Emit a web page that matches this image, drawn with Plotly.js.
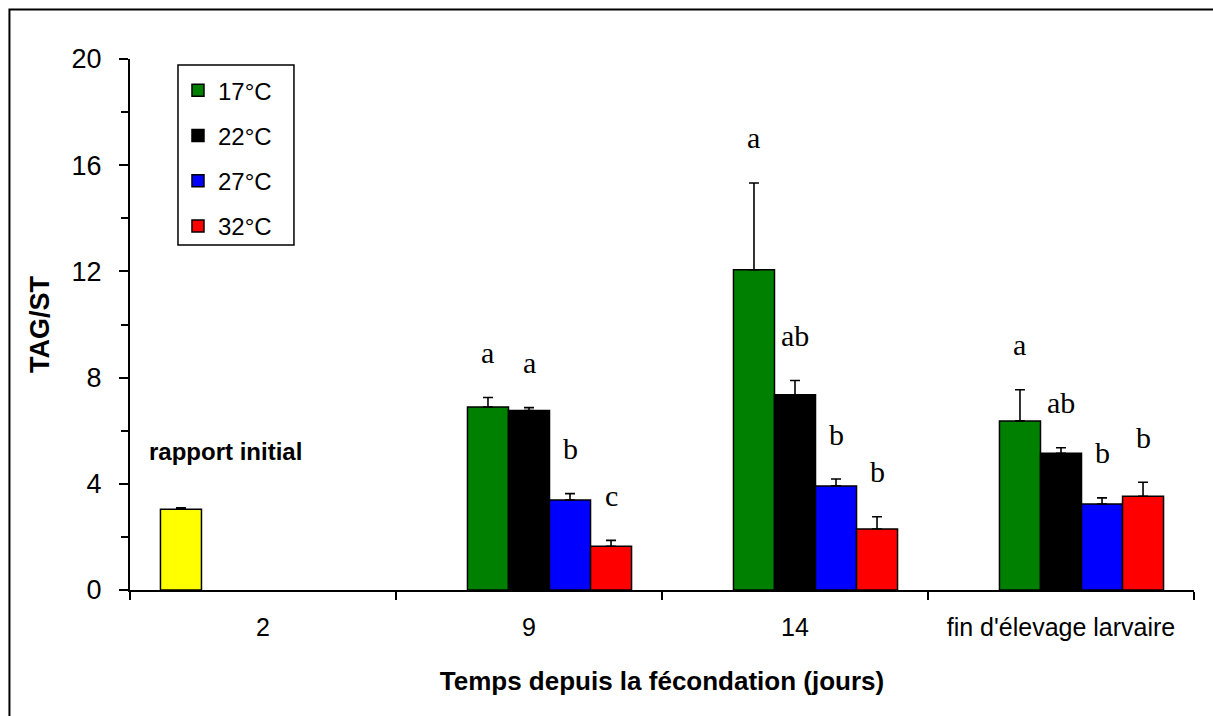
<!DOCTYPE html>
<html>
<head>
<meta charset="utf-8">
<script src="https://cdn.plot.ly/plotly-3.0.1.min.js"></script>
<style>
  html, body { margin: 0; padding: 0; background: #fff; }
  #chart { width: 1213px; height: 716px; }
</style>
</head>
<body>
<div id="chart"></div>
<script>
// Sampling times (days after fertilisation)
const categories = ['2', '9', '14', "fin d'élevage larvaire"];

// Initial TAG/ST ratio (only measured at day 2)
const initialRatio = [3.04, null, null, null];
const initialErr   = [0.06, null, null, null];

// TAG/ST by rearing temperature: mean and upper error
const temp17 = [null, 6.89, 12.06, 6.37];
const err17  = [null, 0.36, 3.27, 1.17];
const temp22 = [null, 6.76, 7.35, 5.15];
const err22  = [null, 0.11, 0.54, 0.21];
const temp27 = [null, 3.39, 3.92, 3.24];
const err27  = [null, 0.24, 0.26, 0.23];
const temp32 = [null, 1.65, 2.30, 3.53];
const err32  = [null, 0.22, 0.46, 0.53];

// Statistical group letters per temperature and sampling time
const letters17 = [null, 'a', 'a', 'a'];
const letters22 = [null, 'a', 'ab', 'ab'];
const letters27 = [null, 'b', 'b', 'b'];
const letters32 = [null, 'c', 'b', 'b'];

const seriesNames = ['17°C', '22°C', '27°C', '32°C'];

const BARGAP = 0.229;
const NSLOTS = 5;

function barTrace(name, y, err, color, slot, showLegend) {
  return {
    type: 'bar',
    name: name,
    x: categories,
    y: y,
    legendgroup: 'g' + slot,
    showlegend: showLegend,
    marker: { color: color, line: { color: '#000', width: 1.5 } },
    error_y: {
      type: 'data', symmetric: false,
      array: err, arrayminus: err.map(() => 0),
      color: '#000', thickness: 1.6, width: 5
    },
    hoverinfo: 'x+y+name'
  };
}

const traces = [
  barTrace('rapport initial', initialRatio, initialErr, '#FFFF00', 0, false),
  barTrace(seriesNames[0], temp17, err17, '#008000', 1, true),
  barTrace(seriesNames[1], temp22, err22, '#000000', 2, true),
  barTrace(seriesNames[2], temp27, err27, '#0000FF', 3, true),
  barTrace(seriesNames[3], temp32, err32, '#FF0000', 4, true)
];

// Letters sit above each error bar, centred on the bar's slot in the group
const slotWidth = (1 - BARGAP) / NSLOTS;
const letterSets = [
  [letters17, temp17, err17, 1],
  [letters22, temp22, err22, 2],
  [letters27, temp27, err27, 3],
  [letters32, temp32, err32, 4]
];
const annotations = [];
letterSets.forEach(([letters, vals, errs, slot]) => {
  letters.forEach((txt, i) => {
    if (!txt) return;
    annotations.push({
      x: i + (slot - (NSLOTS - 1) / 2) * slotWidth,
      y: vals[i] + errs[i],
      xref: 'x', yref: 'y',
      text: txt, showarrow: false,
      xanchor: 'center', yanchor: 'middle', yshift: 45,
      font: { family: 'Liberation Serif, Times New Roman, serif', size: 30, color: '#000' }
    });
  });
});
annotations.push({
  x: -0.14, y: 5.2, xref: 'x', yref: 'y',
  text: '<b>rapport initial</b>', showarrow: false,
  xanchor: 'center', yanchor: 'middle',
  font: { family: 'Liberation Sans, Arial, sans-serif', size: 24, color: '#000' }
});

const layout = {
  width: 1213, height: 716,
  margin: { l: 130, r: 19, t: 59, b: 126 },
  paper_bgcolor: '#fff', plot_bgcolor: '#fff',
  font: { family: 'Liberation Sans, Arial, sans-serif', color: '#000' },
  barmode: 'group', bargap: BARGAP, bargroupgap: 0,
  xaxis: {
    type: 'category',
    showline: true, linecolor: '#000', linewidth: 2,
    ticks: 'outside', tickson: 'boundaries', ticklen: 8, tickwidth: 2, tickcolor: '#000',
    ticklabelstandoff: 14,
    tickfont: { size: 25 },
    showgrid: false, zeroline: false,
    title: { text: '<b>Temps depuis la fécondation (jours)</b>', font: { size: 26 }, standoff: 32 }
  },
  yaxis: {
    range: [0, 20], dtick: 4, tick0: 0,
    showline: true, linecolor: '#000', linewidth: 2,
    ticks: 'outside', ticklen: 9, tickwidth: 2, tickcolor: '#000',
    minor: { dtick: 2, ticks: 'outside', ticklen: 7, tickwidth: 2, tickcolor: '#000' },
    ticklabelstandoff: 12,
    tickfont: { size: 27 },
    showgrid: false, zeroline: false,
    title: { text: '<b>TAG/ST</b>', font: { size: 27 }, standoff: 14 }
  },
  legend: {
    x: 0.0451, y: 0.9827, xanchor: 'left', yanchor: 'top',
    bgcolor: 'rgba(255,255,255,0)', borderwidth: 0,
    font: { size: 24, color: '#000' },
    traceorder: 'grouped', tracegroupgap: 11
  },
  annotations: annotations,
  shapes: [
    // outer chart frame
    {
      type: 'rect', xref: 'paper', yref: 'paper',
      x0: -0.1133, x1: 1.1, y0: -0.3, y1: 1.0932,
      line: { color: '#000', width: 2 }, fillcolor: 'rgba(0,0,0,0)', layer: 'below'
    },
    // legend box
    {
      type: 'rect', xref: 'paper', yref: 'paper',
      x0: 0.0451, x1: 0.1541, y0: 0.6497, y1: 0.9887,
      line: { color: '#000', width: 1.5 }, fillcolor: '#fff', layer: 'above'
    }
  ]
};

Plotly.newPlot('chart', traces, layout, { displayModeBar: false, staticPlot: true });
</script>
</body>
</html>
